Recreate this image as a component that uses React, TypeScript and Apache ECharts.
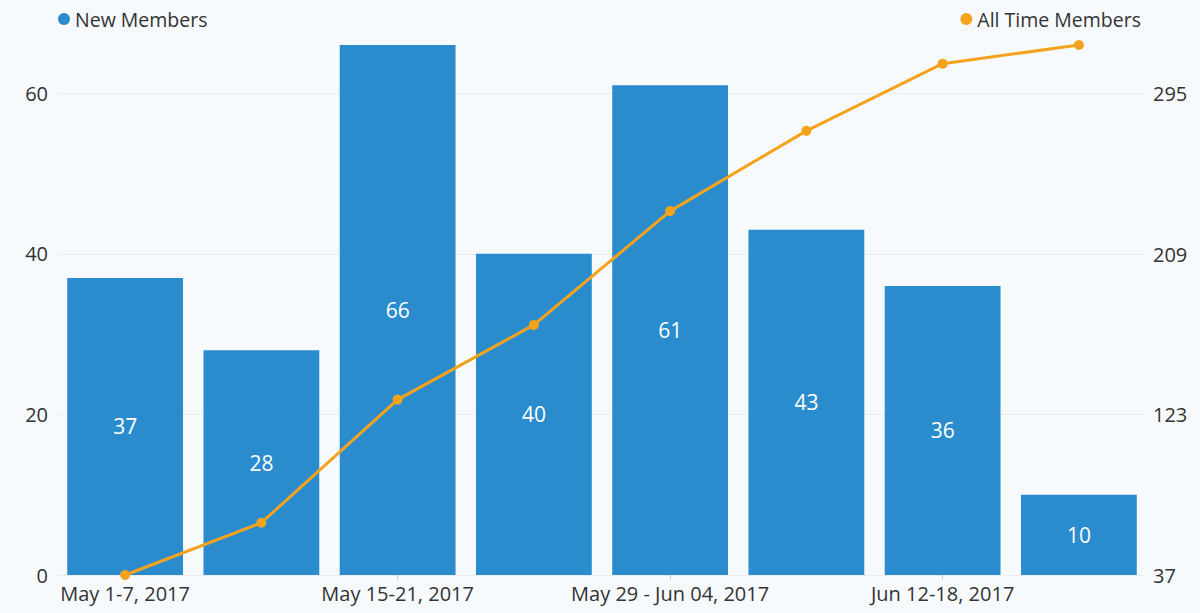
import React, { useEffect, useRef } from "react";
import * as echarts from "echarts";

const categories = [
  "May 1-7, 2017",
  "May 8-14, 2017",
  "May 15-21, 2017",
  "May 22-28, 2017",
  "May 29 - Jun 04, 2017",
  "Jun 05-11, 2017",
  "Jun 12-18, 2017",
  "Jun 19-25, 2017",
];
const newMembers = [37, 28, 66, 40, 61, 43, 36, 10];
const allTimeMembers = [37, 65, 131, 171, 232, 275, 311, 321];

export default function App() {
  const ref = useRef<HTMLDivElement>(null);
  useEffect(() => {
    document.body.style.margin = "0";
    const chart = echarts.init(ref.current!, null, { renderer: "svg" });
    const font = "'Open Sans', sans-serif";
    chart.setOption({
      animation: false,
      backgroundColor: "#f7fafd",
      textStyle: { fontFamily: font },
      legend: [
        {
          data: ["New Members"],
          left: 53,
          top: 4,
          icon: "circle",
          itemWidth: 12,
          itemHeight: 12,
          itemGap: 8,
          textStyle: { fontSize: 19.5, color: "#333", fontFamily: font },
        },
        {
          data: ["All Time Members"],
          right: 54,
          top: 4,
          icon: "circle",
          itemWidth: 12,
          itemHeight: 12,
          textStyle: { fontSize: 19.5, color: "#333", fontFamily: font },
        },
      ],
      grid: { left: 57, right: 53, top: 45, bottom: 38, containLabel: false },
      xAxis: {
        type: "category",
        data: categories,
        axisLine: { show: false },
        axisTick: {
          show: true,
          alignWithLabel: true,
          interval: 1,
          length: 5,
          lineStyle: { color: "#ccc" },
        },
        axisLabel: {
          interval: 1,
          fontSize: 20,
          color: "#333",
          margin: 8,
          fontFamily: font,
        },
      },
      yAxis: [
        {
          type: "value",
          min: 0,
          max: 66,
          interval: 20,
          axisLine: { show: false },
          axisTick: { show: false },
          splitLine: { lineStyle: { color: "#ececec" }, showMaxLine: false },
          axisLabel: {
            fontSize: 20,
            color: "#333",
            margin: 9,
            fontFamily: font,
            showMaxLabel: false,
          },
        },
        {
          type: "value",
          min: 37,
          max: 321,
          interval: 86,
          axisLine: { show: false },
          axisTick: { show: false },
          splitLine: { show: false },
          axisLabel: {
            fontSize: 20,
            color: "#333",
            margin: 6,
            fontFamily: font,
            showMaxLabel: false,
          },
        },
      ],
      series: [
        {
          name: "New Members",
          type: "bar",
          data: newMembers,
          yAxisIndex: 0,
          barCategoryGap: "15%",
          itemStyle: { color: "#2b8ccd" },
          label: {
            show: true,
            position: "inside",
            color: "#fff",
            fontSize: 21,
            fontFamily: font,
          },
        },
        {
          name: "All Time Members",
          type: "line",
          data: allTimeMembers,
          yAxisIndex: 1,
          symbol: "circle",
          symbolSize: 10,
          itemStyle: { color: "#f5a31d" },
          lineStyle: { color: "#f5a31d", width: 3 },
        },
      ],
    });
    return () => chart.dispose();
  }, []);
  return <div ref={ref} style={{ width: 1200, height: 613 }} />;
}
